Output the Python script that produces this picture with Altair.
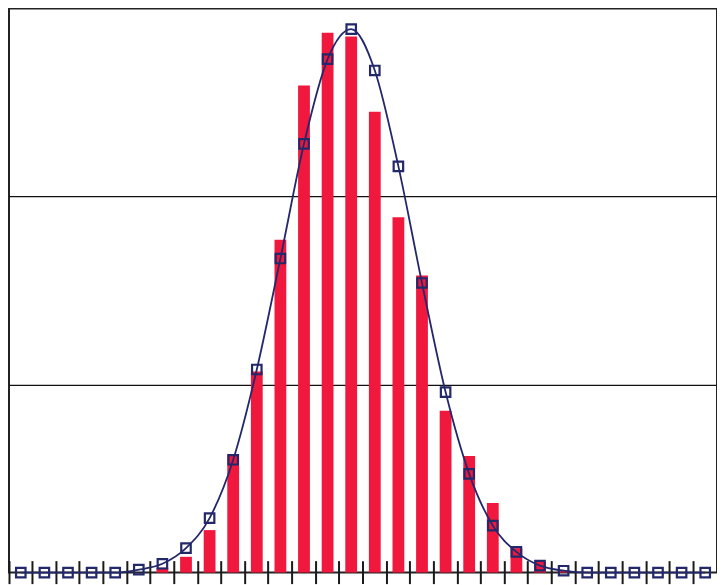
import altair as alt
import pandas as pd

# 30 classes (bins) along the x axis
categories = [str(i) for i in range(1, 31)]

# observed frequencies (red bars), in units where the grid lines are 100 and 200
observed = [0, 0, 0, 0, 0, 0, 2.6, 8.4, 22.6, 63, 107, 177, 259, 287, 285,
            245, 189, 158, 86, 62, 37, 13, 5.8, 1, 0, 0, 0, 0, 0, 0]

# expected / fitted curve (navy line with square markers)
expected = [0, 0, 0, 0, 0, 1.6, 4.7, 13, 29, 60, 108, 167, 228, 273, 289,
            267, 216, 154, 96, 52.5, 25, 11, 3.7, 1, 0, 0, 0, 0, 0, 0]

grid_values = [100, 200]

df = pd.DataFrame({"cat": categories, "observed": observed, "expected": expected})

x_enc = alt.X(
    "cat:O",
    sort=categories,
    scale=alt.Scale(paddingInner=0, paddingOuter=0),
    axis=alt.Axis(labels=False, title=None, domain=False, ticks=True,
                  tickSize=23, offset=-12, bandPosition=0,
                  tickColor="#1a1a1a", tickWidth=2, grid=False),
)
y_scale = alt.Scale(domain=[0, 300], nice=False)

bars = alt.Chart(df).mark_bar(
    color="#f0183d", width=alt.RelativeBandSize(0.5)
).encode(
    x=x_enc,
    y=alt.Y("observed:Q", scale=y_scale,
            axis=alt.Axis(values=grid_values, labels=False, ticks=False,
                          domain=False, title=None, grid=True,
                          gridColor="#111111", gridWidth=1.3, gridOpacity=1)),
)

line = alt.Chart(df).mark_line(
    color="#23286b", strokeWidth=1.8, interpolate="monotone"
).encode(
    x=alt.X("cat:O", sort=categories),
    y=alt.Y("expected:Q", scale=y_scale),
)

points = alt.Chart(df).mark_point(
    shape="square", filled=False, size=90, color="#23286b",
    strokeWidth=2.2, opacity=1
).encode(
    x=alt.X("cat:O", sort=categories),
    y=alt.Y("expected:Q", scale=y_scale),
)

chart = alt.layer(bars, line, points).properties(
    width=709, height=565, padding=0
).configure_view(
    stroke="#222222", strokeWidth=2
)

chart.save("out.html", embed_options={"renderer": "svg", "actions": False})
